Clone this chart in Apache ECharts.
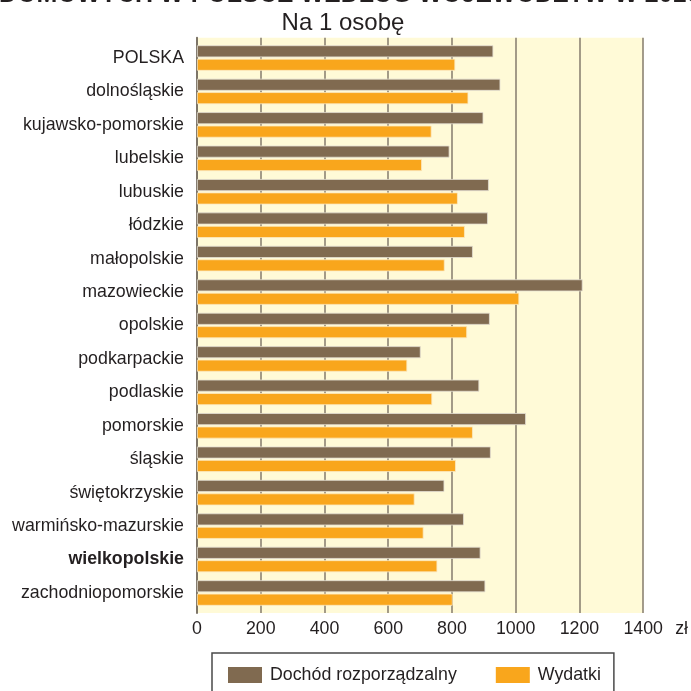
<!DOCTYPE html>
<html>
<head>
<meta charset="utf-8">
<script src="https://cdn.jsdelivr.net/npm/echarts@6/dist/echarts.min.js"></script>
<style>
html,body{margin:0;padding:0;background:#fff;}
#chart{width:691px;height:691px;}
</style>
</head>
<body>
<div id="chart"></div>
<script>
const categories = ['POLSKA','dolnośląskie','kujawsko-pomorskie','lubelskie','lubuskie','łódzkie','małopolskie','mazowieckie','opolskie','podkarpackie','podlaskie','pomorskie','śląskie','świętokrzyskie','warmińsko-mazurskie','wielkopolskie','zachodniopomorskie'];
const dochod = [926, 948, 895, 789, 912, 909, 862, 1205, 915, 699, 882, 1028, 918, 773, 834, 886, 901];
const wydatki = [807, 848, 733, 703, 815, 837, 774, 1007, 844, 657, 735, 862, 809, 680, 708, 751, 799];
const xMin = 0, xMax = 1400, xStep = 200;
const seriesNames = ['Dochód rozporządzalny', 'Wydatki'];
const boldCategory = 'wielkopolskie';

const FONT = 'Liberation Sans, Arial, sans-serif';
const chart = echarts.init(document.getElementById('chart'));
chart.setOption({
  animation: false,
  textStyle: {fontFamily: FONT},
  title: [
    {text: 'DOMOWYCH W POLSCE WEDŁUG WOJEWÓDZTW W 2016', left: -6, top: -22,
     textStyle: {fontSize: 25, fontWeight: 'bold', color: '#231f20', fontFamily: FONT, lineHeight: 24}},
    {text: 'Na 1 osobę', left: 338, top: 6, textAlign: 'center',
     textStyle: {fontSize: 24, fontWeight: 'normal', color: '#231f20', fontFamily: FONT}}
  ],
  legend: {
    data: seriesNames,
    left: 212, top: 653,
    orient: 'horizontal',
    itemWidth: 34, itemHeight: 16, itemGap: 39,
    padding: [13, 13, 40, 16],
    borderColor: '#4a4a4a', borderWidth: 1.5,
    icon: 'rect',
    itemStyle: {borderWidth: 0},
    textStyle: {fontSize: 17.8, color: '#231f20', fontFamily: FONT, padding: [0, 0, 0, 3]}
  },
  grid: [
    {left: 197, right: 46, top: 37.7, bottom: 78, show: true, backgroundColor: '#fffad7', borderWidth: 0},
    {left: 197, right: 46, top: 41.3, bottom: 81.3}
  ],
  xAxis: [
    {gridIndex: 0, type: 'value', min: xMin, max: xMax, interval: xStep,
     name: 'zł', nameLocation: 'end', nameGap: 32,
     nameTextStyle: {fontSize: 17.8, color: '#231f20', verticalAlign: 'top', padding: [7, 0, 0, 0], align: 'left'},
     axisLine: {show: false}, axisTick: {show: false},
     axisLabel: {fontSize: 17.8, color: '#231f20', margin: 7, formatter: function (v) { return String(v); }},
     splitLine: {show: true, lineStyle: {color: '#8c8373', width: 1.6}}},
    {gridIndex: 1, type: 'value', min: xMin, max: xMax, interval: xStep, show: false,
     splitLine: {show: false}}
  ],
  yAxis: [
    {gridIndex: 0, type: 'category', data: categories, inverse: true,
     axisLine: {show: true, lineStyle: {color: '#7d7568', width: 2}},
     axisTick: {show: false}, axisLabel: {show: false}, splitLine: {show: false}},
    {gridIndex: 1, type: 'category', data: categories, inverse: true,
     axisLine: {show: false}, axisTick: {show: false},
     axisLabel: {fontSize: 17.8, color: '#231f20', margin: 13,
       formatter: function (v) { return v === boldCategory ? '{b|' + v + '}' : v; },
       rich: {b: {fontWeight: 'bold', fontSize: 17.8, color: '#231f20', fontFamily: FONT}}}}
  ],
  series: [
    {name: seriesNames[0], type: 'bar', xAxisIndex: 1, yAxisIndex: 1, data: dochod,
     barWidth: 12, barGap: '12%',
     itemStyle: {color: '#806a50', borderColor: '#e3ded2', borderWidth: 0.8}},
    {name: seriesNames[1], type: 'bar', xAxisIndex: 1, yAxisIndex: 1, data: wydatki,
     barWidth: 12, barGap: '12%',
     itemStyle: {color: '#f9a61c', borderColor: '#fbe9c0', borderWidth: 0.8}}
  ]
});
</script>
</body>
</html>
